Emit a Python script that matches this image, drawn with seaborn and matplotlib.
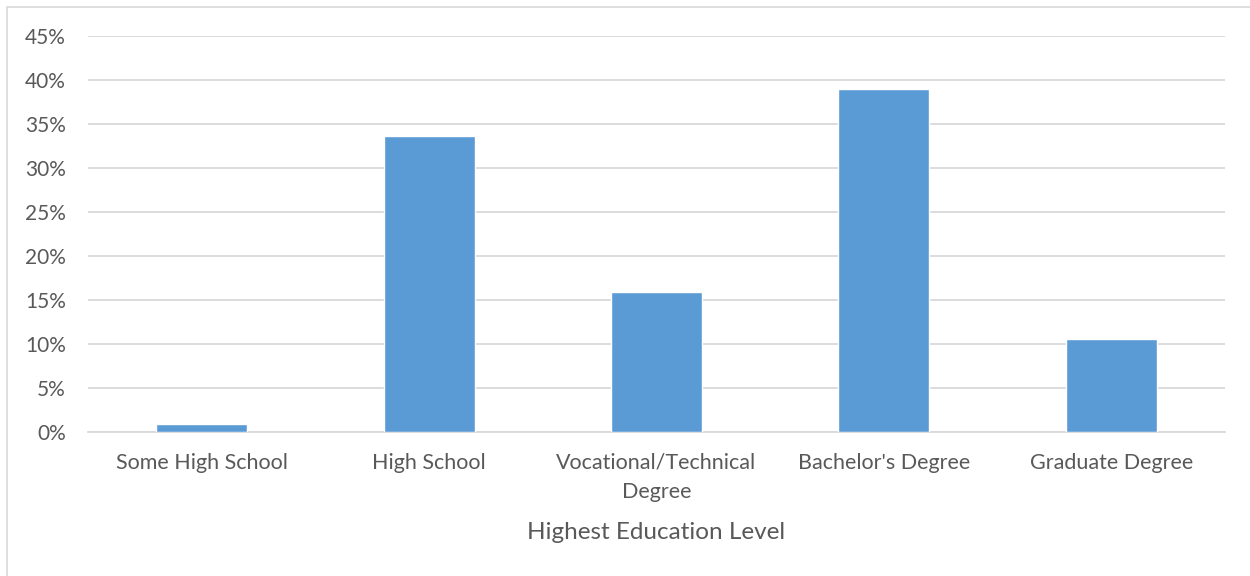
import matplotlib
matplotlib.use("Agg")
import matplotlib.pyplot as plt
import seaborn as sns
import pandas as pd
from matplotlib.patches import Rectangle
from matplotlib.ticker import PercentFormatter

categories = ["Some High School", "High School", "Vocational/Technical\nDegree",
              "Bachelor's Degree", "Graduate Degree"]
shares = [0.87, 33.6, 15.9, 38.95, 10.55]
y_ticks = [0, 5, 10, 15, 20, 25, 30, 35, 40, 45]

sns.set_theme(style="white")
plt.rcParams["font.family"] = ["Lato", "DejaVu Sans"]

df = pd.DataFrame({"level": categories, "share": shares})

fig = plt.figure(figsize=(12.5, 5.76), dpi=100)
ax = fig.add_axes([88 / 1250, 1 - 432 / 576, (1225 - 88) / 1250, (432 - 36) / 576])

# chart frame
fig.patches.append(Rectangle((7 / 1250, -0.01), 1.02, 1 - 7 / 576 + 0.01,
                             transform=fig.transFigure, fill=False,
                             edgecolor="#D9D9D9", linewidth=1.2))

sns.barplot(data=df, x="level", y="share", color="#5B9BD5", width=0.4,
            saturation=1, ax=ax, zorder=3)

ax.set_ylim(0, 45)
ax.set_yticks(y_ticks)
ax.yaxis.set_major_formatter(PercentFormatter(decimals=0))
ax.grid(axis="y", color="#D9D9D9", linewidth=1.3, zorder=0)
ax.set_axisbelow(True)
for side in ["top", "right", "left"]:
    ax.spines[side].set_visible(False)
ax.spines["bottom"].set_color("#D9D9D9")
ax.spines["bottom"].set_linewidth(1.3)

ax.tick_params(axis="y", length=0, pad=16, labelsize=15, labelcolor="#595959")
ax.tick_params(axis="x", length=0, pad=15, labelsize=15.5, labelcolor="#595959")
for lab in ax.get_xticklabels():
    lab.set_linespacing(1.6)

ax.set_ylabel("")
ax.set_xlabel("Highest Education Level", fontsize=17.5, color="#595959", labelpad=14)

fig.savefig("out.png", dpi=100, facecolor="white")
